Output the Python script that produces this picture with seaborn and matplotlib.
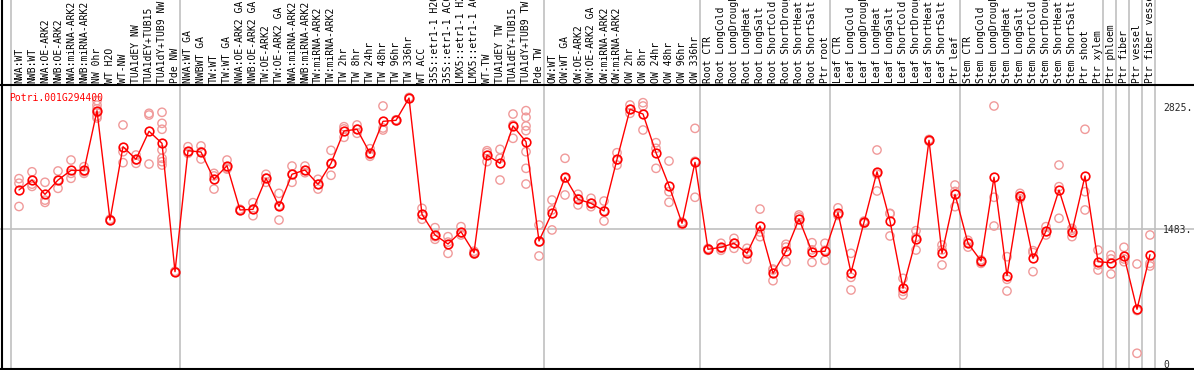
import matplotlib
matplotlib.use("Agg")
import matplotlib.pyplot as plt
import seaborn as sns
import numpy as np
import pandas as pd

# ---------------- data ----------------
gene = "Potri.001G294400"

samples = [
    "NWA:WT", "NWB:WT", "NWA:OE-ARK2", "NWB:OE-ARK2", "NWA:miRNA-ARK2", "NWB:miRNA-ARK2",
    "NW 0hr", "WT H2O", "WT-NW", "TUA1dEY NW", "TUA1dEY+TUB15", "TUA1dY+TUB9 NW", "Pde NW",
    "NWA:WT GA", "NWBWT GA", "TW:WT", "TW:WT GA", "NWA:OE-ARK2 GA", "NWB:OE-ARK2 GA",
    "TW:OE-ARK2", "TW:OE-ARK2 GA", "NWA:miRNA-ARK2", "NWB:miRNA-ARK2", "TW:miRNA-ARK2",
    "TW:miRNA-ARK2", "TW 2hr", "TW 8hr", "TW 24hr", "TW 48hr", "TW 96hr", "TW 336hr",
    "WT ACC", "35S::etr1-1 H2O", "35S::etr1-1 ACC", "LMX5::etr1-1 H2O", "LMX5::etr1-1 ACC",
    "WT-TW", "TUA1dEY TW", "TUA1dEY+TUB15", "TUA1dY+TUB9 TW", "Pde TW",
    "OW:WT", "OW:WT GA", "OW:OE-ARK2", "OW:OE-ARK2 GA", "OW:miRNA-ARK2", "OW:miRNA-ARK2",
    "OW 2hr", "OW 8hr", "OW 24hr", "OW 48hr", "OW 96hr", "OW 336hr",
    "Root CTR", "Root LongCold", "Root LongDrought", "Root LongHeat", "Root LongSalt",
    "Root ShortCold", "Root ShortDrought", "Root ShortHeat", "Root ShortSalt", "Ptr root",
    "Leaf CTR", "Leaf LongCold", "Leaf LongDrought", "Leaf LongHeat", "Leaf LongSalt",
    "Leaf ShortCold", "Leaf ShortDrought", "Leaf ShortHeat", "Leaf ShortSalt", "Ptr leaf",
    "Stem CTR", "Stem LongCold", "Stem LongDrought", "Stem LongHeat", "Stem LongSalt",
    "Stem ShortCold", "Stem ShortDrought", "Stem ShortHeat", "Stem ShortSalt", "Ptr shoot",
    "Ptr xylem", "Ptr phloem", "Ptr fiber", "Ptr vessel", "Ptr fiber vessel",
]

group_sizes = [13, 28, 12, 10, 10, 11, 1, 1, 1, 1]

means = [
    1911, 2020, 1863, 2020, 2126, 2126, 2779, 1582, 2385, 2247, 2554, 2422, 1016,
    2341, 2327, 2028, 2177, 1692, 1699, 2039, 1732, 2083, 2130, 1973, 2203,
    2557, 2576, 2313, 2663, 2674, 2918, 1644, 1418, 1319, 1454, 1224,
    2294, 2203, 2612, 2440, 1352,
    1662, 2050, 1809, 1765, 1681, 2247, 2795, 2743, 2319, 1958, 1546, 2214,
    1261, 1283, 1327, 1217, 1516, 998, 1242, 1593, 1235, 1239,
    1662, 1005, 1557, 2111, 1571, 834, 1370, 2455, 1217, 1863,
    1327, 1133, 2050, 972, 1845, 1162, 1461, 1911, 1454, 2064, 1125,
    1114, 1188, 604, 1202,
]

replicates = [
    [2035, 1985, 1730], [2110, 1975, 1950], [1995, 1800, 1775], [2119, 2020, 1929],
    [2239, 2093, 2039], [2166, 2111, 2093], [2890, 2840, 2800, 2760, 2720, 2700],
    [1590, 1580, 1575], [2623, 2330, 2210], [2294, 2239, 2203], [2751, 2732, 2195],
    [2762, 2641, 2576, 2349, 2258, 2221, 2184], [1020, 1015, 1012],
    [2385, 2330, 2313], [2393, 2330, 2250], [2093, 2065, 1921], [2239, 2150, 2140],
    [1700, 1690, 1685], [1772, 1700, 1629], [2083, 2040, 1995], [1874, 1740, 1582],
    [2173, 2083, 1995], [2173, 2125, 2100], [2028, 1973, 1921], [2345, 2195, 2072],
    [2604, 2580, 2488], [2623, 2576, 2532], [2363, 2300, 2280], [2831, 2590, 2568],
    [2680, 2674, 2668], [2925, 2918, 2910], [1710, 1640, 1590], [1498, 1400, 1371],
    [1399, 1340, 1217], [1509, 1440, 1418], [1240, 1224, 1210],
    [2341, 2320, 2221], [2356, 2258, 2020], [2743, 2623, 2477],
    [2780, 2707, 2612, 2561, 2330, 2148, 1976], [1527, 1340, 1188],
    [1801, 1692, 1473], [2258, 2040, 1856], [1864, 1815, 1747], [1820, 1765, 1728],
    [1790, 1681, 1571], [2319, 2240, 2184], [2842, 2795, 2751], [2867, 2831, 2568],
    [2429, 2367, 2148], [2228, 1892, 1776], [1560, 1546, 1530], [2586, 2225, 1831],
    [1270, 1261, 1250], [1327, 1270, 1250], [1381, 1327, 1272], [1272, 1228, 1151],
    [1702, 1450, 1399], [1045, 1034, 917], [1316, 1285, 1125], [1637, 1615, 1527],
    [1333, 1255, 1118], [1327, 1250, 1140],
    [1715, 1640, 1632], [1217, 954, 815], [1570, 1557, 1545], [2349, 2085, 1900],
    [1655, 1650, 1407], [943, 800, 760], [1465, 1392, 1253], [2465, 2455, 2445],
    [1308, 1255, 1089], [1965, 1895, 1728],
    [1360, 1335, 1285], [1145, 1133, 1107], [2831, 1831, 1516], [1180, 932, 804],
    [1874, 1845, 1815], [1246, 1225, 1016], [1509, 1455, 1418], [2184, 1947, 1601],
    [1490, 1470, 1400], [2576, 1892, 1692], [1253, 1090, 1034],
    [1198, 1155, 990], [1283, 1155, 1125], [1100, 590, 122], [1418, 1107, 1078],
]

ytick_values = [0, 1483, 2825]
ytick_labels = ["0", "1483.", "2825."]

# ---------------- tables ----------------
idx = np.arange(len(samples))
mean_df = pd.DataFrame({"pos": idx, "value": means})
rep_df = pd.DataFrame(
    [(i, v) for i, reps in enumerate(replicates) for v in reps],
    columns=["pos", "value"],
)

# ---------------- figure ----------------
sns.set_style("white")
plt.rcParams["font.family"] = ["DejaVu Sans Mono", "DejaVu Sans"]

W, H = 1194, 370
fig = plt.figure(figsize=(W / 100, H / 100), dpi=100)
top_px, bot_px = 85, 369
ax = fig.add_axes([0, (H - bot_px) / H, 1, (bot_px - top_px) / H])

# pixel layout: category i centre at 19 + 13*i px
step, x0 = 13.0, 19.0
ax.set_xlim((0 - x0) / step, (W - x0) / step)
ylo, yhi = -50.4, 3061.0
ax.set_ylim(ylo, yhi)

grid_col = "#c0c0c0"
# group separators (extend through the label band)
bounds = np.concatenate([[0], np.cumsum(group_sizes)])
ext = bot_px / (bot_px - top_px)
for b in bounds:
    ax.axvline(b - 8 / step, ymin=0, ymax=ext, color=grid_col, lw=1.2,
               clip_on=False, zorder=0.5)
ax.axhline(1483, color=grid_col, lw=1.2, zorder=0.5)

# replicate points
sns.scatterplot(data=rep_df, x="pos", y="value", ax=ax, marker="o",
                facecolors="none", edgecolor="#f09a9a", linewidth=1.0,
                s=36, zorder=2, legend=False)

# mean profile
sns.lineplot(data=mean_df, x="pos", y="value", ax=ax, color="#ff0000",
             lw=1.0, marker="o", markersize=6.2, markerfacecolor="none",
             markeredgecolor="#ff0000", markeredgewidth=1.2, zorder=3,
             legend=False)

ax.set_xlim((0 - x0) / step, (W - x0) / step)
ax.set_ylim(ylo, yhi)

# x labels on top, rotated
ax.xaxis.tick_top()
ax.set_xticks(idx)
ax.set_xticklabels(samples, rotation=90, fontsize=7)
ax.tick_params(axis="x", length=0, pad=1.2, colors="black")

# y labels inside on the right
ax.yaxis.tick_right()
ax.set_yticks(ytick_values)
ax.set_yticklabels(ytick_labels, fontsize=7)
ax.tick_params(axis="y", length=0, pad=-22.3)

ax.set_xlabel("")
ax.set_ylabel("")

for side in ["right", "left"]:
    ax.spines[side].set_visible(False)
for side in ["top", "bottom"]:
    ax.spines[side].set_color("black")
    ax.spines[side].set_linewidth(1.5)

# left border through the whole height
ax.axvline((1.8 - x0) / step, ymin=0, ymax=ext, color="black", lw=1.5,
           clip_on=False, zorder=4)

ax.text(0.0075, 0.955, gene, transform=ax.transAxes, color="#ff0000",
        fontsize=7, ha="left", va="center")

fig.savefig("out.png", dpi=100)
